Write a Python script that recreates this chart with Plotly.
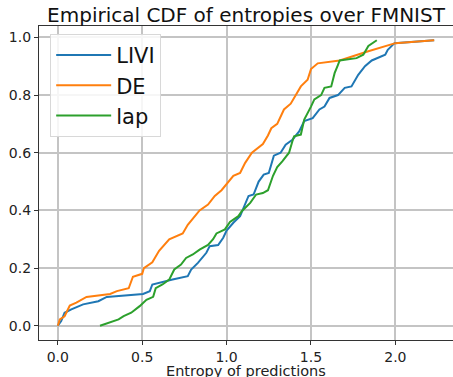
import plotly.graph_objects as go

livi_x = [0.0, 0.02, 0.04, 0.08, 0.15, 0.24, 0.29, 0.505, 0.545, 0.56, 0.68, 0.77, 0.79, 0.83, 0.88, 0.90, 0.95, 0.98, 1.0, 1.04, 1.08, 1.11, 1.13, 1.16, 1.19, 1.22, 1.25, 1.28, 1.32, 1.35, 1.39, 1.43, 1.46, 1.51, 1.55, 1.58, 1.61, 1.66, 1.70, 1.74, 1.78, 1.82, 1.86, 1.94, 1.955, 1.995, 2.23]
livi_y = [0.0, 0.016, 0.045, 0.057, 0.074, 0.085, 0.10, 0.11, 0.12, 0.143, 0.16, 0.172, 0.195, 0.218, 0.253, 0.276, 0.28, 0.305, 0.33, 0.357, 0.38, 0.426, 0.45, 0.455, 0.50, 0.524, 0.53, 0.59, 0.60, 0.628, 0.645, 0.674, 0.71, 0.72, 0.75, 0.76, 0.79, 0.80, 0.825, 0.83, 0.87, 0.90, 0.92, 0.94, 0.957, 0.98, 0.99]

de_x = [0.0, 0.012, 0.04, 0.071, 0.11, 0.17, 0.31, 0.35, 0.42, 0.445, 0.5, 0.51, 0.56, 0.6, 0.66, 0.74, 0.77, 0.82, 0.84, 0.89, 0.93, 0.97, 1.0, 1.04, 1.08, 1.11, 1.15, 1.215, 1.245, 1.265, 1.30, 1.34, 1.38, 1.41, 1.44, 1.48, 1.50, 1.54, 1.67, 1.83, 2.0, 2.23]
de_y = [0.0, 0.022, 0.033, 0.07, 0.08, 0.10, 0.11, 0.12, 0.13, 0.17, 0.18, 0.20, 0.22, 0.26, 0.30, 0.32, 0.35, 0.385, 0.40, 0.42, 0.45, 0.47, 0.49, 0.52, 0.53, 0.565, 0.60, 0.63, 0.66, 0.685, 0.70, 0.75, 0.77, 0.80, 0.83, 0.853, 0.89, 0.91, 0.92, 0.95, 0.98, 0.99]

lap_x = [0.25, 0.30, 0.36, 0.39, 0.435, 0.485, 0.525, 0.565, 0.58, 0.62, 0.66, 0.69, 0.73, 0.76, 0.80, 0.84, 0.89, 0.92, 0.94, 0.99, 1.02, 1.07, 1.09, 1.14, 1.175, 1.215, 1.245, 1.275, 1.30, 1.33, 1.37, 1.39, 1.40, 1.44, 1.46, 1.50, 1.52, 1.56, 1.58, 1.62, 1.64, 1.66, 1.67, 1.77, 1.81, 1.84, 1.89]
lap_y = [0.0, 0.01, 0.022, 0.033, 0.045, 0.068, 0.09, 0.10, 0.13, 0.143, 0.16, 0.195, 0.212, 0.235, 0.247, 0.264, 0.28, 0.30, 0.32, 0.334, 0.36, 0.38, 0.397, 0.426, 0.455, 0.46, 0.47, 0.52, 0.55, 0.57, 0.60, 0.64, 0.657, 0.663, 0.715, 0.76, 0.785, 0.80, 0.825, 0.83, 0.876, 0.905, 0.92, 0.928, 0.94, 0.97, 0.99]

x_ticks = [0.0, 0.5, 1.0, 1.5, 2.0]
y_ticks = [0.0, 0.2, 0.4, 0.6, 0.8, 1.0]

FONT = "DejaVu Sans"
fig = go.Figure()
for name, xs, ys, col in [("LIVI", livi_x, livi_y, "#1f77b4"),
                          ("DE", de_x, de_y, "#ff7f0e"),
                          ("lap", lap_x, lap_y, "#2ca02c")]:
    fig.add_trace(go.Scatter(x=xs, y=ys, mode="lines", name=name,
                             line=dict(color=col, width=2)))

axis_common = dict(showgrid=True, gridcolor="#c4c4c4", gridwidth=1.5,
                   showline=True, linecolor="#333333", linewidth=1.3,
                   ticks="outside", ticklen=4, tickcolor="#333333",
                   tickfont=dict(family=FONT, size=14, color="#222"),
                   zeroline=False, automargin=False)

fig.update_layout(
    width=453, height=377,
    margin=dict(l=39, r=0, t=26, b=37),
    plot_bgcolor="white", paper_bgcolor="white",
    title=dict(text="Empirical CDF of entropies over FMNIST", x=0.5, xref="paper",
               y=1 - 15/377, yref="container", yanchor="middle", xanchor="center",
               font=dict(family=FONT, size=20, color="#111")),
    xaxis=dict(range=[-0.1115, 2.3415], tickvals=x_ticks,
               ticktext=[f"{v:.1f}" for v in x_ticks], mirror=True,
               **axis_common),
    yaxis=dict(range=[-0.0495, 1.0395], tickvals=y_ticks,
               ticktext=[f"{v:.1f}" for v in y_ticks], **axis_common),
    legend=dict(x=0.027, y=0.975, xanchor="left", yanchor="top",
                bgcolor="rgba(255,255,255,0.85)", bordercolor="#d8d8d8", borderwidth=1,
                font=dict(family=FONT, size=21, color="#111"), tracegroupgap=0,
                itemwidth=55),
    showlegend=True,
    annotations=[dict(text="Entropy of predictions", xref="paper", yref="paper",
                      x=0.5, y=-0.099, xanchor="center", yanchor="middle",
                      showarrow=False,
                      font=dict(family=FONT, size=14.5, color="#222"))],
)

fig.write_html("out.html")
